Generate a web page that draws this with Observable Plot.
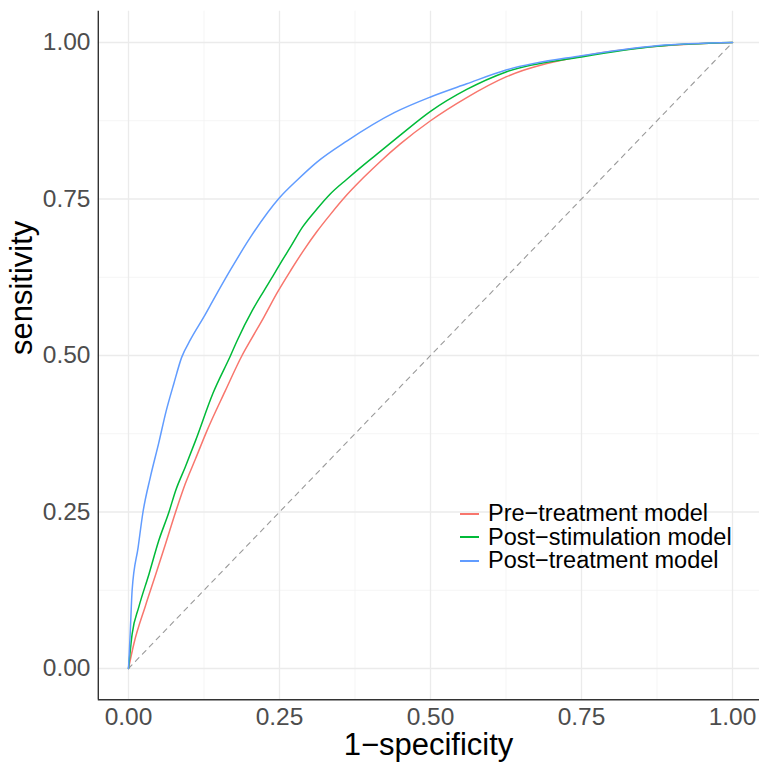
<!DOCTYPE html>
<html>
<head>
<meta charset="utf-8">
<script src="https://cdn.jsdelivr.net/npm/d3@7"></script>
<script src="https://cdn.jsdelivr.net/npm/@observablehq/plot@0.6"></script>
<style>
  html, body { margin: 0; padding: 0; background: #fff; }
  #wrap { position: relative; width: 759px; height: 763px; font-family: "Liberation Sans", Arial, sans-serif; }
  #legend { position: absolute; left: 460px; top: 502px; font-size: 23.5px; color: #000; }
  #legend .row { display: flex; align-items: center; height: 23.5px; line-height: 23.5px; white-space: nowrap; }
  #legend .key { width: 19px; height: 2px; margin-right: 9px; }
</style>
</head>
<body>
<div id="wrap"><div id="legend"></div></div>
<script>
const models = ["Pre\u2212treatment model", "Post\u2212stimulation model", "Post\u2212treatment model"];
const colors = ["#F8766D", "#00BA38", "#619CFF"];
const ticks = [0, 0.25, 0.5, 0.75, 1];
const minorTicks = [0.125, 0.375, 0.625, 0.875];
const domain = [-0.05, 1.05];

const preTreatment = [[0,0],[0.009,0.04],[0.028,0.10],[0.045,0.15],[0.061,0.198],[0.078,0.25],[0.094,0.295],[0.111,0.335],[0.130,0.38],[0.16,0.443],[0.188,0.50],[0.202,0.524],[0.224,0.561],[0.246,0.600],[0.268,0.635],[0.290,0.668],[0.312,0.698],[0.334,0.725],[0.362,0.757],[0.390,0.785],[0.417,0.81],[0.45,0.838],[0.5,0.875],[0.56,0.912],[0.625,0.945],[0.75,0.978],[0.875,0.994],[1,1]];
const postStimulation = [[0,0],[0.006,0.055],[0.017,0.098],[0.034,0.151],[0.050,0.204],[0.067,0.25],[0.078,0.284],[0.094,0.322],[0.111,0.364],[0.14,0.44],[0.169,0.50],[0.180,0.524],[0.205,0.572],[0.224,0.603],[0.241,0.630],[0.252,0.648],[0.268,0.673],[0.288,0.705],[0.312,0.734],[0.334,0.758],[0.362,0.782],[0.390,0.805],[0.417,0.826],[0.45,0.852],[0.5,0.89],[0.56,0.925],[0.625,0.953],[0.75,0.977],[0.875,0.994],[1,1]];
const postTreatment = [[0,0],[0.003,0.06],[0.006,0.125],[0.016,0.194],[0.024,0.25],[0.036,0.305],[0.050,0.36],[0.062,0.41],[0.075,0.455],[0.088,0.497],[0.103,0.526],[0.125,0.562],[0.14,0.588],[0.169,0.637],[0.202,0.689],[0.25,0.752],[0.279,0.780],[0.312,0.809],[0.362,0.843],[0.44,0.888],[0.5,0.913],[0.56,0.934],[0.625,0.956],[0.75,0.979],[0.875,0.995],[1,1]];
const diagonal = [[0,0],[1,1]];

const series = [preTreatment, postStimulation, postTreatment];
const rows = series.flatMap((s, i) => s.map(([x, y]) => ({x, y, model: models[i]})));

const plot = Plot.plot({
  width: 759,
  height: 763,
  marginLeft: 97,
  marginRight: 0,
  marginTop: 10,
  marginBottom: 64,
  style: {fontFamily: "Liberation Sans, Arial, sans-serif", background: "#fff"},
  x: {domain, range: [97.8, 762.2]},
  y: {domain, range: [699.3, 10.7]},
  color: {domain: models, range: colors},
  marks: [
    Plot.ruleX(minorTicks, {y1: domain[0], y2: domain[1], stroke: "#f2f2f2", strokeWidth: 0.8}),
    Plot.ruleY(minorTicks, {x1: domain[0], x2: domain[1], stroke: "#f2f2f2", strokeWidth: 0.8}),
    Plot.ruleX(ticks, {y1: domain[0], y2: domain[1], stroke: "#ebebeb", strokeWidth: 1.3}),
    Plot.ruleY(ticks, {x1: domain[0], x2: domain[1], stroke: "#ebebeb", strokeWidth: 1.3}),
    Plot.line(diagonal, {x: d => d[0], y: d => d[1], stroke: "#9a9a9a", strokeWidth: 1.1, strokeDasharray: "5,5"}),
    Plot.line(rows, {x: "x", y: "y", z: "model", stroke: "model", strokeWidth: 1.5, curve: "monotone-x"}),
    Plot.ruleX([domain[0]], {y1: domain[0], y2: domain[1], stroke: "#333", strokeWidth: 1.4}),
    Plot.ruleY([domain[0]], {x1: domain[0], x2: domain[1], stroke: "#333", strokeWidth: 1.4}),
    Plot.axisX(ticks, {tickFormat: d3.format(".2f"), tickSize: 0, tickPadding: 8, fontSize: 24.5, fill: "#4d4d4d", label: null}),
    Plot.axisY(ticks, {tickFormat: d3.format(".2f"), tickSize: 0, tickPadding: 7, fontSize: 24.5, fill: "#4d4d4d", label: null}),
    Plot.text(["1\u2212specificity"], {frameAnchor: "bottom", dy: 46, lineAnchor: "middle", fontSize: 31, fill: "#000"}),
    Plot.text(["sensitivity"], {frameAnchor: "left", dx: -75, rotate: -90, lineAnchor: "middle", fontSize: 31, fill: "#000"})
  ]
});
const wrap = document.getElementById("wrap");
wrap.insertBefore(plot, wrap.firstChild);

const legend = document.getElementById("legend");
models.forEach((m, i) => {
  const row = document.createElement("div");
  row.className = "row";
  const key = document.createElement("span");
  key.className = "key";
  key.style.background = colors[i];
  const label = document.createElement("span");
  label.textContent = m;
  row.appendChild(key);
  row.appendChild(label);
  legend.appendChild(row);
});
</script>
</body>
</html>
